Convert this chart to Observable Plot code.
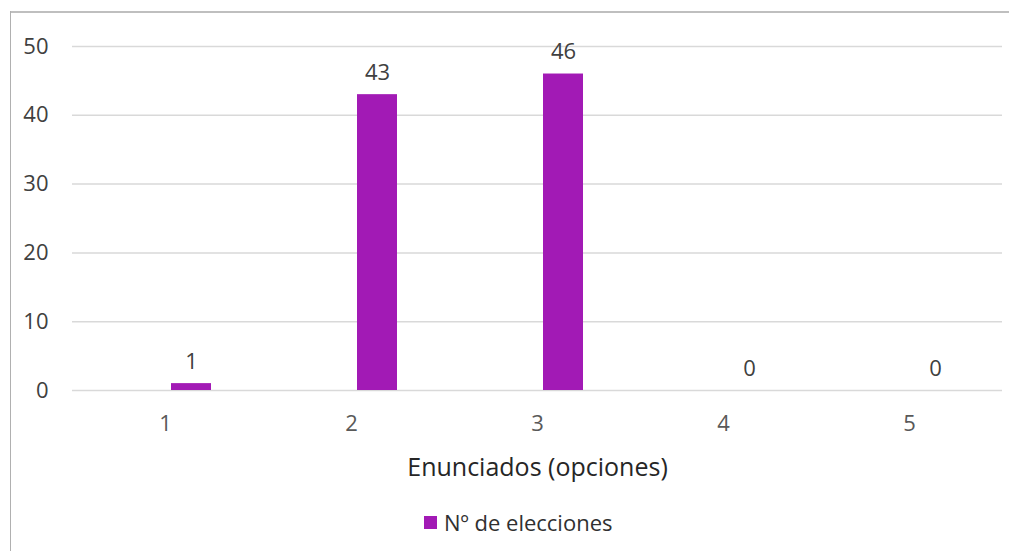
<!DOCTYPE html>
<html>
<head>
<meta charset="utf-8">
<script src="https://cdn.jsdelivr.net/npm/d3@7"></script>
<script src="https://cdn.jsdelivr.net/npm/@observablehq/plot@0.6"></script>
<style>
  html, body { margin: 0; padding: 0; background: #fff; }
  #frame { position: relative; width: 1009px; height: 551px; overflow: hidden; font-family: "Open Sans", sans-serif; }
  #frame .border-top { position: absolute; left: 10px; top: 11px; width: 999px; height: 2px; background: #BFBFBF; }
  #frame .border-left { position: absolute; left: 10px; top: 11px; width: 1px; height: 540px; background: #B0B0B0; }
  #chart { position: absolute; left: 0; top: 0; }
  #legend { position: absolute; left: 424px; top: 507px; display: flex; align-items: center; gap: 7px; font-size: 22px; color: #303030; }
  #legend .swatch { width: 13px; height: 13px; background: #A21AB5; }
</style>
</head>
<body>
<div id="frame">
  <div class="border-top"></div>
  <div class="border-left"></div>
  <div id="chart"></div>
  <div id="legend"><span class="swatch"></span><span id="legend-label"></span></div>
</div>
<script>
// Categories (statement options) and number of selections for each
const categories = ["1", "2", "3", "4", "5"];
const values = [1, 43, 46, 0, 0];
const seriesName = "Nº de elecciones";
const yTicks = [0, 10, 20, 30, 40, 50];
const axisTitle = "Enunciados (opciones)";

const barColor = "#A21AB5";
const rows = categories.map((c, i) => ({cat: c, series: seriesName, value: values[i]}));

document.getElementById("legend-label").textContent = seriesName;

const chart = Plot.plot({
  width: 1009,
  height: 490,
  marginLeft: 71,
  marginRight: 7,
  marginTop: 46,
  marginBottom: 100,
  style: {fontFamily: "'Open Sans', sans-serif", background: "transparent"},
  fx: {domain: categories, padding: 0},
  // one band per category; the bar sits right of the category centre
  x: {domain: [seriesName], paddingInner: 0, paddingOuter: 1.77, align: 0.68, axis: null},
  y: {domain: [0, 50]},
  marks: [
    Plot.gridY(yTicks, {stroke: "#D9D9D9", strokeOpacity: 1, strokeWidth: 1.5}),
    Plot.axisY(yTicks, {tickSize: 0, tickPadding: 24, fontSize: 22, fill: "#404040", label: null}),
    Plot.axisFx({anchor: "bottom", tickSize: 0, tickPadding: 25, fontSize: 22, fill: "#595959", label: null}),
    // axis title, drawn larger than the tick labels
    Plot.axisFx({anchor: "bottom", ticks: [], tickSize: 0, fontSize: 25, fill: "#262626",
                 label: axisTitle, labelAnchor: "center", labelOffset: 85}),
    Plot.barY(rows, {fx: "cat", x: "series", y: "value", fill: barColor}),
    Plot.text(rows, {fx: "cat", x: "series", y: "value", text: d => String(d.value),
                     lineAnchor: "bottom", dy: -15, fontSize: 22, fill: "#404040"})
  ]
});
document.getElementById("chart").append(chart);
</script>
</body>
</html>
